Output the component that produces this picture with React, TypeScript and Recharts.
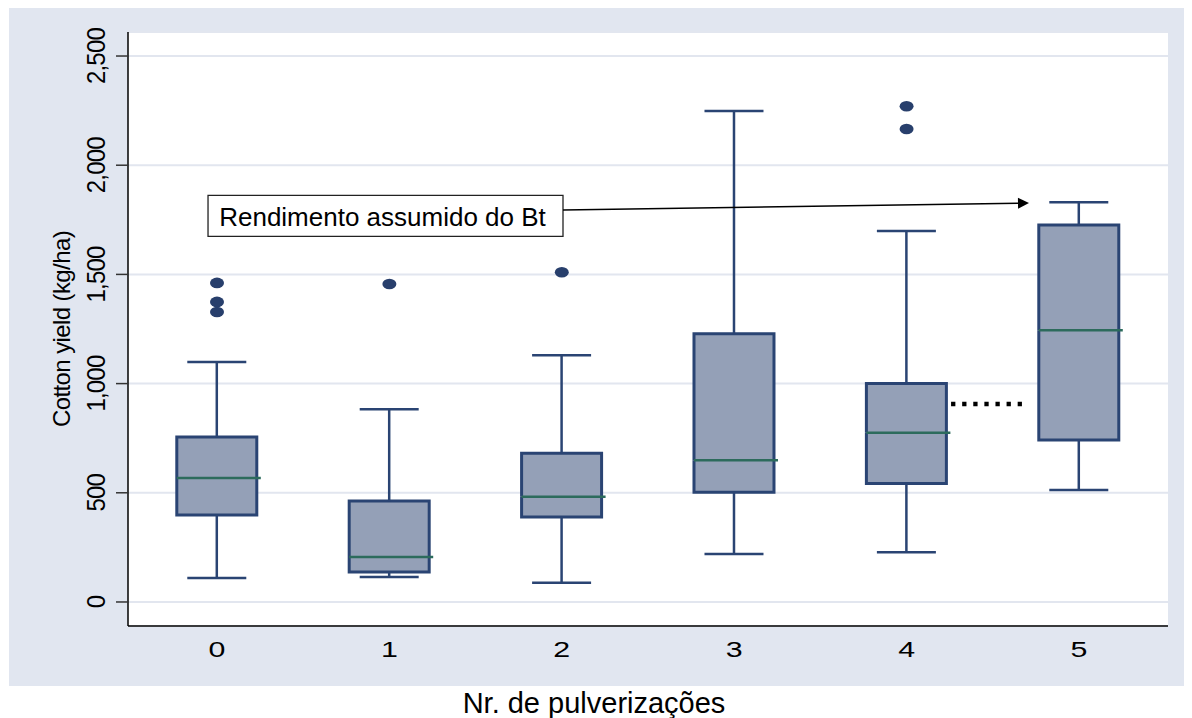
import React from 'react';
import {
  ComposedChart,
  Bar,
  Scatter,
  XAxis,
  YAxis,
  CartesianGrid,
  ReferenceArea,
  ReferenceLine,
  Label,
} from 'recharts';

// ---- data ----
const categories = [0, 1, 2, 3, 4, 5];
const whiskerLow = [110, 114, 88, 220, 228, 513];
const q1 = [398, 137, 389, 502, 543, 742];
const median = [568, 206, 482, 649, 775, 1244];
const q3 = [755, 462, 681, 1228, 1001, 1726];
const whiskerHigh = [1099, 882, 1130, 2248, 1699, 1830];
const outlierCat = [0, 0, 0, 1, 2, 4, 4];
const outlierVal = [1461, 1374, 1328, 1456, 1510, 2270, 2166];
const yTicks = [0, 500, 1000, 1500, 2000, 2500];
const xTitle = 'Nr. de pulverizações';
const yTitle = 'Cotton yield (kg/ha)';
const annotationText = 'Rendimento assumido do Bt';
const annotationX = [-0.052, 2.007];
const annotationY = [1674, 1862];
const arrowFrom = { x: 2.007, y: 1795 };
const arrowTo = { x: 4.71, y: 1827 };
const dottedX = [4.258, 4.669];
const dottedY = 907;

const rows = categories.map((c, i) => ({
  x: c,
  base: whiskerLow[i],
  lowW: q1[i] - whiskerLow[i],
  lowBox: median[i] - q1[i],
  highBox: q3[i] - median[i],
  highW: whiskerHigh[i] - q3[i],
}));
const outliers = outlierCat.map((c, i) => ({ x: c, y: outlierVal[i] }));

const FONT = 'Liberation Sans, Arial, Helvetica, sans-serif';
const BOX_STROKE = '#2a4473';
const BOX_FILL = '#94a0b7';
const MEDIAN = '#2c6b5c';
const DOT = '#283f6c';
const CAP = 59;

const Empty = () => <g />;

const LowWhisker = (p: any) => {
  const cx = p.x + p.width / 2;
  const bottom = p.y + p.height;
  return (
    <g stroke={BOX_STROKE} strokeWidth={2.5}>
      <line x1={cx} x2={cx} y1={bottom} y2={p.y} />
      <line x1={cx - CAP / 2} x2={cx + CAP / 2} y1={bottom} y2={bottom} />
    </g>
  );
};

const HighWhisker = (p: any) => {
  const cx = p.x + p.width / 2;
  const bottom = p.y + p.height;
  return (
    <g stroke={BOX_STROKE} strokeWidth={2.5}>
      <line x1={cx} x2={cx} y1={bottom} y2={p.y} />
      <line x1={cx - CAP / 2} x2={cx + CAP / 2} y1={p.y} y2={p.y} />
    </g>
  );
};

const LowBox = (p: any) => {
  const { x, y, width: w, height: h } = p;
  return (
    <g>
      <rect x={x} y={y} width={w} height={h} fill={BOX_FILL} />
      <path
        d={`M${x},${y} L${x},${y + h} L${x + w},${y + h} L${x + w},${y}`}
        fill="none"
        stroke={BOX_STROKE}
        strokeWidth={3}
      />
    </g>
  );
};

const HighBox = (p: any) => {
  const { x, y, width: w, height: h } = p;
  return (
    <g>
      <rect x={x} y={y} width={w} height={h} fill={BOX_FILL} />
      <path
        d={`M${x},${y + h} L${x},${y} L${x + w},${y} L${x + w},${y + h}`}
        fill="none"
        stroke={BOX_STROKE}
        strokeWidth={3}
      />
      <line x1={x} x2={x + w + 4} y1={y + h} y2={y + h} stroke={MEDIAN} strokeWidth={2.5} />
    </g>
  );
};

const OutlierDot = (p: any) => <ellipse cx={p.cx} cy={p.cy} rx={7} ry={5.3} fill={DOT} />;

const YTick = (p: any) => (
  <text
    transform={`translate(${p.x - 9},${p.y}) scale(1.1,1) rotate(-90)`}
    textAnchor="middle"
    fontSize={24}
    letterSpacing={-0.8}
    fontFamily={FONT}
    fill="#000"
  >
    {Number(p.payload.value).toLocaleString('en-US')}
  </text>
);

const XTick = (p: any) => (
  <text
    transform={`translate(${p.x},657) scale(1.35,1)`}
    textAnchor="middle"
    fontSize={22.5}
    fontFamily={FONT}
    fill="#000"
  >
    {p.payload.value}
  </text>
);

const Arrow = (p: any) => {
  const { x1, y1, x2, y2 } = p;
  const dx = x2 - x1;
  const dy = y2 - y1;
  const len = Math.sqrt(dx * dx + dy * dy);
  const ux = dx / len;
  const uy = dy / len;
  const hl = 11;
  const hw = 5.5;
  const bx = x2 - ux * hl;
  const by = y2 - uy * hl;
  return (
    <g>
      <line x1={x1} y1={y1} x2={bx} y2={by} stroke="#000" strokeWidth={1.5} />
      <polygon
        points={`${x2},${y2} ${bx - uy * hw},${by + ux * hw} ${bx + uy * hw},${by - ux * hw}`}
        fill="#000"
      />
    </g>
  );
};

export default function App() {
  return (
    <div style={{ position: 'relative', width: 1192, height: 718, margin: '-8px 0 0 -8px', background: '#fff' }}>
      <div style={{ position: 'absolute', left: 9, top: 8, width: 1183, height: 678, background: '#e1e6f0' }} />
      <div style={{ position: 'absolute', left: 0, top: 0 }}>
        <ComposedChart
          width={1192}
          height={718}
          data={rows}
          margin={{ top: 32, right: 24, left: 68, bottom: 52 }}
        >
          <CartesianGrid vertical={false} stroke="#e2e6ef" strokeWidth={2} fill="#ffffff" fillOpacity={1} />
          <XAxis
            dataKey="x"
            type="number"
            domain={[-0.5162, 5.5163]}
            allowDataOverflow
            ticks={categories}
            interval={0}
            height={40}
            tickLine={false}
            axisLine={{ stroke: '#000', strokeWidth: 1.5 }}
            tick={<XTick />}
          >
            <Label
              content={() => (
                <text x={594} y={713} textAnchor="middle" fontSize={29} fontFamily={FONT} fill="#000">
                  {xTitle}
                </text>
              )}
            />
          </XAxis>
          <YAxis
            type="number"
            domain={[-110, 2610]}
            allowDataOverflow
            ticks={yTicks}
            interval={0}
            width={60}
            tickSize={12}
            tickMargin={2}
            tickLine={{ stroke: '#333', strokeWidth: 1.5 }}
            axisLine={{ stroke: '#000', strokeWidth: 1.5 }}
            tick={<YTick />}
          >
            <Label
              content={() => (
                <text
                  transform="translate(70,329) rotate(-90)"
                  textAnchor="middle"
                  fontSize={24}
                  letterSpacing={-0.6}
                  fontFamily={FONT}
                  fill="#000"
                >
                  {yTitle}
                </text>
              )}
            />
          </YAxis>
          <Bar dataKey="base" stackId="box" barSize={80} shape={<Empty />} isAnimationActive={false} />
          <Bar dataKey="lowW" stackId="box" barSize={80} shape={<LowWhisker />} isAnimationActive={false} />
          <Bar dataKey="lowBox" stackId="box" barSize={80} shape={<LowBox />} isAnimationActive={false} />
          <Bar dataKey="highBox" stackId="box" barSize={80} shape={<HighBox />} isAnimationActive={false} />
          <Bar dataKey="highW" stackId="box" barSize={80} shape={<HighWhisker />} isAnimationActive={false} />
          <Scatter data={outliers} dataKey="y" shape={<OutlierDot />} isAnimationActive={false} />
          <ReferenceLine
            segment={[
              { x: dottedX[0], y: dottedY },
              { x: dottedX[1], y: dottedY },
            ]}
            stroke="#000"
            strokeWidth={4.5}
            strokeDasharray="4.3 6.8"
          />
          <ReferenceArea
            x1={annotationX[0]}
            x2={annotationX[1]}
            y1={annotationY[0]}
            y2={annotationY[1]}
            fill="#fff"
            fillOpacity={1}
            stroke="#222"
            strokeWidth={1.3}
            label={(props: any) => {
              const vb = props.viewBox || {};
              return (
                <text
                  x={vb.x + vb.width / 2 - 3}
                  y={vb.y + vb.height / 2 + 10}
                  textAnchor="middle"
                  fontSize={26}
                  fontFamily={FONT}
                  fill="#000"
                >
                  {annotationText}
                </text>
              );
            }}
          />
          <ReferenceLine segment={[arrowFrom, arrowTo]} shape={(p: any) => <Arrow {...p} />} />
        </ComposedChart>
      </div>
    </div>
  );
}
